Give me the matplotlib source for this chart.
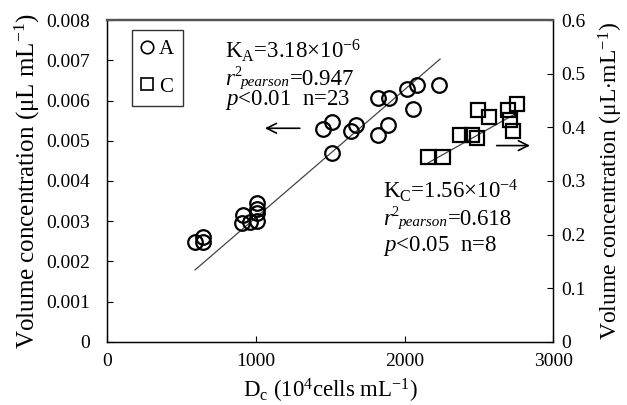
import matplotlib
matplotlib.use("Agg")
import matplotlib.pyplot as plt
import numpy as np
from matplotlib.lines import Line2D
from matplotlib.transforms import offset_copy

plt.rcParams['font.family'] = ['Liberation Serif', 'DejaVu Serif']
plt.rcParams['mathtext.fontset'] = 'custom'
plt.rcParams['mathtext.rm'] = 'Liberation Serif'
plt.rcParams['mathtext.it'] = 'Liberation Serif:italic'
plt.rcParams['mathtext.bf'] = 'Liberation Serif:bold'

# Species A (left axis): cell density vs volume concentration
dc_a = [590, 646, 646, 904, 915, 960, 1005, 1009, 1009,
        1449, 1509, 1509, 1637, 1671, 1823, 1895, 1823, 1890,
        2018, 2085, 2054, 2233, 1005]
vol_a = [0.00249, 0.00262, 0.00249, 0.00295, 0.00316, 0.00298, 0.00345, 0.00321, 0.00301,
         0.00528, 0.00547, 0.00470, 0.00525, 0.00540, 0.00607, 0.00607, 0.00515, 0.00540,
         0.00628, 0.00638, 0.00578, 0.00638, 0.00330]

# Species C (right axis)
dc_c = [2159, 2256, 2372, 2451, 2485, 2496, 2567, 2697, 2758, 2709, 2731]
vol_c = [0.345, 0.345, 0.386, 0.386, 0.380, 0.432, 0.420, 0.432, 0.4435, 0.414, 0.394]

# Regression lines (slope, intercept) and their x ranges
k_a, b_a = 3.18e-6, -0.00009
fit_a_x = [592, 2239]
k_c, b_c = 1.56e-4, -0.003
fit_c_x = [2139, 2744]

fig = plt.figure(figsize=(6.27, 4.05), dpi=100)
ax = fig.add_axes([0.1707, 0.1556, 0.7118, 0.795])
ax2 = ax.twinx()

ms = 10.5
mew = 1.6
ax.plot(dc_a, vol_a, 'o', ms=ms, mfc='none', mec='black', mew=mew, zorder=3)
fx = np.array(fit_a_x, dtype=float)
ax.plot(fx, k_a * fx + b_a, color='#444444', lw=0.9, zorder=2)

ax2.plot(dc_c, vol_c, 's', ms=ms - 0.5, mfc='none', mec='black', mew=mew, zorder=3)
fx = np.array(fit_c_x, dtype=float)
ax2.plot(fx, k_c * fx + b_c, color='#444444', lw=0.9, zorder=2)

ax.set_xlim(0, 3000)
ax.set_ylim(0, 0.008)
ax2.set_ylim(0, 0.6)
ax.set_xticks([0, 1000, 2000, 3000])
ax.set_yticks(np.arange(0, 0.0081, 0.001))
ax.set_yticklabels(['0'] + ['%.3f' % v for v in np.arange(0.001, 0.0081, 0.001)])
ax2.set_yticks(np.arange(0, 0.61, 0.1))
ax2.set_yticklabels(['0'] + ['%.1f' % v for v in np.arange(0.1, 0.61, 0.1)])

for a in (ax, ax2):
    a.tick_params(direction='in', length=4, width=0.8, labelsize=14, pad=6)
    for s in ('left', 'right', 'bottom'):
        a.spines[s].set_linewidth(0.9)
        a.spines[s].set_color('black')
    a.spines['top'].set_linewidth(1.6)
    a.spines['top'].set_color('#555555')
ax.tick_params(axis='y', pad=12)
ax.tick_params(axis='x', pad=8)

ax.set_xlabel(r'D$_\mathrm{c}$ (10$^{4}$cells mL$^{-1}$)', fontsize=16.5, labelpad=5)
ax.set_ylabel(r'Volume concentration ($\mathrm{\mu}$L mL$^{-1}$)', fontsize=18, labelpad=3)
ax2.set_ylabel(r'Volume concentration ($\mathrm{\mu}$L$\cdot$mL$^{-1}$)', fontsize=17,
               labelpad=8)

renderer = fig.canvas.get_renderer()


def text_run(x, y, pieces):
    """Lay out a run of text pieces left to right from a data-space baseline point.
    Each piece: (string, fontsize, style, rise_px)."""
    dx = 0.0
    for s, size, style, rise in pieces:
        tr = offset_copy(ax.transData, fig=fig, x=dx, y=rise, units='dots')
        t = ax.text(x, y, s, fontsize=size, style=style, transform=tr,
                    ha='left', va='baseline')
        dx += t.get_window_extent(renderer).width


fs = 16.5


def r2_line(x, y, value):
    text_run(x, y, [('r', fs, 'italic', 0),
                    ('2', fs * 0.62, 'normal', 9),
                    ('pearson', fs * 0.66, 'italic', -1),
                    ('=' + value, fs, 'normal', 0)])


# Statistics annotations
ax.text(793, 0.00706, r'K$_\mathrm{A}$=3.18$\times$10$^{-6}$', fontsize=fs, va='baseline')
r2_line(793, 0.00639, '0.947')
ax.text(793, 0.00589, r'$\mathit{p}$<0.01  n=23', fontsize=fs, va='baseline')

ax.text(1855, 0.00358, r'K$_\mathrm{C}$=1.56$\times$10$^{-4}$', fontsize=fs, va='baseline')
r2_line(1855, 0.00291, '0.618')
ax.text(1855, 0.00226, r'$\mathit{p}$<0.05  n=8', fontsize=fs, va='baseline')

# Arrows pointing to the corresponding axis
arrow = dict(arrowstyle='->,head_length=0.7,head_width=0.35', color='black', lw=1.2,
             shrinkA=0, shrinkB=0)
ax.annotate('', xy=(1061, 0.00531), xytext=(1296, 0.00531), arrowprops=arrow)
ax.annotate('', xy=(2843, 0.00488), xytext=(2619, 0.00488), arrowprops=arrow)

handles = [Line2D([], [], marker='o', ls='none', ms=9, mfc='none', mec='black', mew=1.2),
           Line2D([], [], marker='s', ls='none', ms=9, mfc='none', mec='black', mew=1.2)]
leg = ax.legend(handles, ['A', 'C'], loc='upper left', bbox_to_anchor=(0.055, 0.968),
                fontsize=15, frameon=True, fancybox=False, edgecolor='black',
                handlelength=0.6, handletextpad=0.25, labelspacing=0.85, borderpad=0.45,
                borderaxespad=0)
leg.get_frame().set_linewidth(1.0)

fig.savefig('out.png', dpi=100)
